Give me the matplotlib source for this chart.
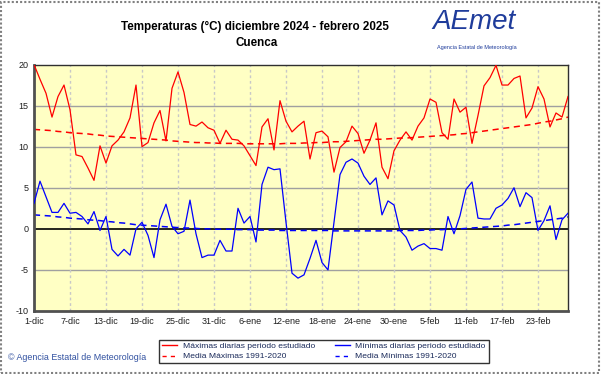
import numpy as np
import matplotlib
matplotlib.use("Agg")
import matplotlib.pyplot as plt
from matplotlib.lines import Line2D
from matplotlib.patches import Rectangle

## --- data (1-dic-2024 .. 28-feb-2025, one value per day)
tmax = [20.0, 18.2, 16.5, 13.6, 16.1, 17.5, 14.5, 9.0, 8.8, 7.4,
        5.9, 10.1, 8.0, 10.1, 10.8, 11.8, 13.5, 17.5, 10.0, 10.5,
        12.9, 14.4, 10.7, 17.1, 19.1, 16.6, 12.7, 12.5, 13.0, 12.3,
        12.0, 10.4, 12.0, 10.9, 10.8, 10.1, 8.9, 7.7, 12.4, 13.4,
        9.6, 15.6, 13.1, 11.8, 12.5, 13.1, 8.5, 11.7, 11.9, 11.2,
        6.9, 9.9, 10.6, 12.5, 11.6, 9.2, 10.8, 12.9, 7.5, 6.1,
        9.5, 10.8, 11.8, 10.8, 12.5, 13.5, 15.8, 15.4, 11.7, 10.9,
        15.8, 14.2, 14.8, 10.4, 13.8, 17.4, 18.4, 19.9, 17.5, 17.5,
        18.3, 18.6, 13.5, 14.7, 17.3, 15.8, 12.4, 14.1, 13.6, 16.1]

tmin = [3.1, 5.8, 3.9, 2.0, 2.0, 3.1, 1.9, 2.0, 1.5, 0.6,
        2.1, -0.2, 1.5, -2.5, -3.3, -2.5, -3.2, 0.0, 0.8, -0.8,
        -3.5, 1.1, 3.0, 0.3, -0.6, -0.3, 3.5, -0.6, -3.5, -3.2,
        -3.2, -1.4, -2.7, -2.7, 2.5, 0.7, 1.5, -1.6, 5.4, 7.5,
        7.2, 7.3, 0.8, -5.4, -6.0, -5.6, -3.6, -1.4, -4.1, -5.0,
        0.8, 6.6, 8.1, 8.5, 8.0, 6.4, 5.4, 6.2, 1.7, 3.4,
        2.9, -0.2, -1.0, -2.6, -2.1, -1.8, -2.4, -2.4, -2.6, 1.5,
        -0.6, 1.6, 4.8, 5.7, 1.3, 1.2, 1.2, 2.5, 2.9, 3.7,
        5.0, 2.7, 4.4, 3.8, -0.2, 1.0, 2.8, -1.3, 1.1, 1.9]

norm_max = [12.1, 12.05, 12.0, 11.95, 11.85, 11.8, 11.7, 11.65, 11.6, 11.55,
            11.45, 11.4, 11.3, 11.25, 11.2, 11.15, 11.1, 11.05, 11.0, 10.95,
            10.9, 10.85, 10.8, 10.7, 10.65, 10.6, 10.55, 10.5, 10.5, 10.45,
            10.45, 10.4, 10.4, 10.4, 10.4, 10.35, 10.35, 10.35, 10.35, 10.35,
            10.35, 10.35, 10.4, 10.4, 10.4, 10.45, 10.45, 10.5, 10.5, 10.55,
            10.6, 10.6, 10.65, 10.7, 10.75, 10.8, 10.85, 10.9, 10.9, 10.95,
            11.0, 11.05, 11.05, 11.1, 11.15, 11.2, 11.25, 11.3, 11.35, 11.4,
            11.45, 11.55, 11.6, 11.7, 11.8, 11.9, 12.0, 12.1, 12.2, 12.3,
            12.4, 12.5, 12.6, 12.7, 12.85, 13.0, 13.1, 13.25, 13.4, 13.6]

norm_min = [1.7, 1.65, 1.6, 1.55, 1.45, 1.4, 1.3, 1.25, 1.2, 1.1,
            1.05, 1.0, 0.9, 0.85, 0.75, 0.7, 0.6, 0.5, 0.45, 0.4,
            0.35, 0.3, 0.25, 0.2, 0.15, 0.1, 0.1, 0.05, 0.0, 0.0,
            -0.05, -0.05, -0.05, -0.05, -0.1, -0.1, -0.1, -0.15, -0.15, -0.15,
            -0.15, -0.2, -0.2, -0.2, -0.2, -0.2, -0.2, -0.2, -0.2, -0.2,
            -0.25, -0.25, -0.25, -0.25, -0.25, -0.25, -0.25, -0.25, -0.25, -0.25,
            -0.25, -0.2, -0.2, -0.2, -0.2, -0.15, -0.15, -0.1, -0.1, -0.05,
            0.0, 0.0, 0.05, 0.1, 0.15, 0.2, 0.25, 0.3, 0.35, 0.45,
            0.5, 0.6, 0.7, 0.8, 0.9, 1.0, 1.1, 1.2, 1.3, 1.45]

xlabels = ['1-dic', '7-dic', '13-dic', '19-dic', '25-dic', '31-dic', '6-ene',
           '12-ene', '18-ene', '24-ene', '30-ene', '5-feb', '11-feb',
           '17-feb', '23-feb']
yticks = [-10, -5, 0, 5, 10, 15, 20]

plt.rcParams['font.family'] = ['Liberation Sans', 'DejaVu Sans']
plt.rcParams['axes.unicode_minus'] = False

days = np.arange(len(tmax))
xt = np.arange(len(xlabels)) * 6

fig = plt.figure(figsize=(6.01, 3.74), dpi=100)
fig.patch.set_facecolor('white')
# outer frame
fig.add_artist(Rectangle((0.002, 0.003), 0.995, 0.992, transform=fig.transFigure,
                         fill=False, edgecolor='#808080', lw=1.5, ls=(0, (1, 1))))

ax = fig.add_axes([34/601, 63/374, 534/601, 246.5/374])
ax.set_facecolor('#ffffc4')

# grid
for v in [-5, 5, 10, 15]:
    ax.axhline(v, color='#a0a0a0', lw=1, zorder=1)
ax.axhline(0, color='black', lw=1.2, zorder=1)
for x in xt[1:]:
    ax.axvline(x, color='#c8c8c8', lw=1, ls=(0, (2, 2)), zorder=1)

ax.plot(days, tmax, color='#ff0000', lw=0.9, zorder=3)
ax.plot(days, tmin, color='#0000ff', lw=0.9, zorder=3)
ax.plot(days, norm_max, color='#ff0000', lw=1.1, ls=(0, (4, 3)), zorder=2)
ax.plot(days, norm_min, color='#0000ff', lw=1.1, ls=(0, (4, 3)), zorder=2)

ax.set_xlim(0, len(tmax) - 1)
ax.set_ylim(-10, 20)
ax.set_xticks(xt)
ax.set_xticklabels(xlabels)
ax.set_yticks(yticks)
ax.set_yticklabels([str(v) for v in yticks])
ax.tick_params(length=0, labelsize=6.5, colors='#202020', pad=4)
for s in ['left', 'bottom']:
    ax.spines[s].set_color('#505050')
    ax.spines[s].set_linewidth(2)
for s in ['top', 'right']:
    ax.spines[s].set_color('#303030')
    ax.spines[s].set_linewidth(1)

# titles
fig.text(255/601, 1 - 27/374, 'Temperaturas (°C) diciembre 2024 - febrero 2025',
         ha='center', va='center', fontsize=8.4, fontweight='bold')
fig.text(257/601, 1 - 43/374, 'Cuenca', ha='center', va='center', fontsize=8.4,
         fontweight='bold')

# logo (text only)
fig.text(474/601, 1 - 22/374, 'AEmet', ha='center', va='center', fontsize=20,
         color='#1f3c9b', style='italic')
fig.text(477/601, 1 - 47/374, 'Agencia Estatal de Meteorología', ha='center',
         va='center', fontsize=4, color='#1f3c9b')

fig.text(8/601, 1 - 358/374, '© Agencia Estatal de Meteorología', ha='left',
         va='center', fontsize=6.4, color='#3050a0')

handles = [Line2D([], [], color='#ff0000', lw=1),
           Line2D([], [], color='#ff0000', lw=1, ls=(0, (3, 3))),
           Line2D([], [], color='#0000ff', lw=1),
           Line2D([], [], color='#0000ff', lw=1, ls=(0, (3, 3)))]
labels = ['Máximas diarias periodo estudiado', 'Media Máximas 1991-2020',
          'Mínimas diarias periodo estudiado', 'Media Mínimas 1991-2020']
leg = fig.legend(handles, labels, ncol=2, loc='center',
                 bbox_to_anchor=(324/601, 1 - 351.5/374), fontsize=6.1,
                 frameon=True, fancybox=False, edgecolor='black',
                 handlelength=1.8, handletextpad=0.6, columnspacing=2.4,
                 labelspacing=0.25, borderpad=0.35)
leg.get_frame().set_linewidth(1)
for t in leg.get_texts():
    t.set_color('#1a2a5a')

fig.savefig('out.png', dpi=100)
